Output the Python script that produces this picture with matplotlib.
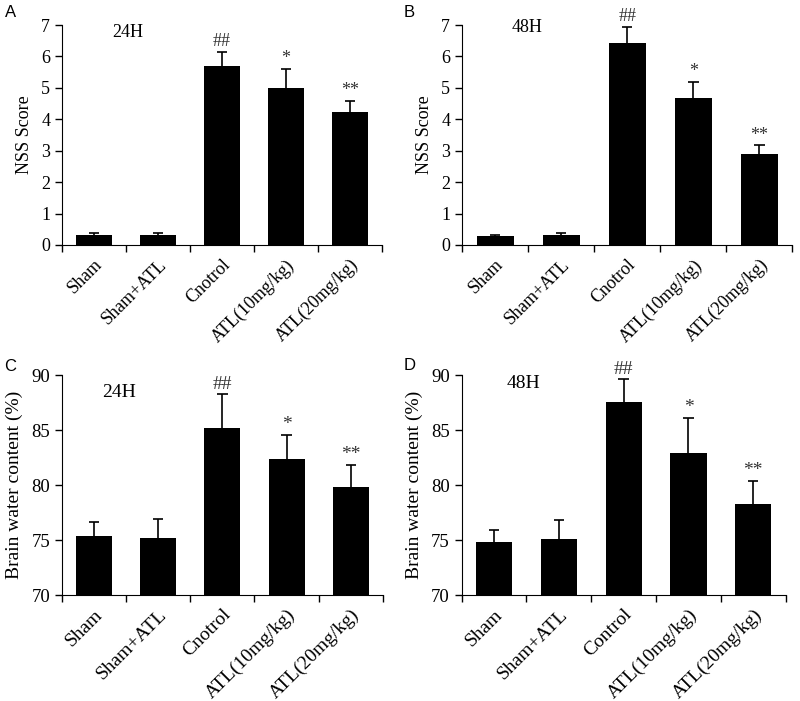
import matplotlib
matplotlib.use("Agg")
import matplotlib.pyplot as plt
import numpy as np

plt.rcParams['font.family'] = ['Liberation Serif', 'DejaVu Serif']

cats_a = ["Sham", "Sham+ATL", "Cnotrol", "ATL(10mg/kg)", "ATL(20mg/kg)"]
cats_d = ["Sham", "Sham+ATL", "Control", "ATL(10mg/kg)", "ATL(20mg/kg)"]

nss_24_mean = [0.33, 0.33, 5.70, 5.00, 4.22]
nss_24_err = [0.04, 0.04, 0.45, 0.60, 0.37]
nss_48_mean = [0.28, 0.32, 6.42, 4.68, 2.90]
nss_48_err = [0.05, 0.07, 0.53, 0.50, 0.27]
bwc_24_mean = [75.36, 75.20, 85.20, 82.40, 79.85]
bwc_24_err = [1.30, 1.68, 3.05, 2.15, 2.00]
bwc_48_mean = [74.85, 75.06, 87.55, 82.95, 78.28]
bwc_48_err = [1.05, 1.75, 2.05, 3.15, 2.12]
marks = ["", "", "##", "*", "**"]

fig = plt.figure(figsize=(8, 7.01), dpi=100)

panels = [
    ("A", [0.0775, 0.6505, 0.400, 0.3138], cats_a, nss_24_mean, nss_24_err, (0, 7), 1, "NSS Score", "24H",
     (0.156, 0.964), (0.006, 0.971), (13, 13, 13)),
    ("B", [0.5775, 0.6505, 0.413, 0.3138], cats_a, nss_48_mean, nss_48_err, (0, 7), 1, "NSS Score", "48H",
     (0.151, 0.99), (0.505, 0.972), (13, 13, 13)),
    ("C", [0.0775, 0.1512, 0.401, 0.3138], cats_a, bwc_24_mean, bwc_24_err, (70, 90), 5, "Brain water content (%)", "24H",
     (0.125, 0.92), (0.005, 0.466), (13.5, 14, 14)),
    ("D", [0.5771, 0.1512, 0.405, 0.3138], cats_d, bwc_48_mean, bwc_48_err, (70, 90), 5, "Brain water content (%)", "48H",
     (0.139, 0.96), (0.505, 0.468), (13.5, 14, 14)),
]

for letter, rect, cats, mean, err, ylim, step, ylab, tlab, tpos, lpos, fs in panels:
    ax = fig.add_axes(rect)
    x = np.arange(len(cats))
    mean = np.array(mean)
    err = np.array(err)
    base = ylim[0]
    ax.bar(x, mean - base, bottom=base, width=0.56, color="black", zorder=3)
    ax.vlines(x, mean, mean + err, color="black", linewidth=1.2, zorder=2)
    ax.hlines(mean + err, x - 0.08, x + 0.08, color="black", linewidth=1.2, zorder=2)
    span = ylim[1] - ylim[0]
    for xi, m, e, s in zip(x, mean, err, marks):
        if s:
            ax.text(xi, m + e + span * 0.008, s, ha="center", va="bottom", fontsize=fs[1], color="#333333")
    ax.set_xlim(-0.5, len(cats) - 0.5)
    ax.set_ylim(*ylim)
    ax.set_yticks(np.arange(ylim[0], ylim[1] + step / 2, step))
    ax.set_xticks(x)
    ax.set_xticklabels(cats, rotation=45, ha="right", rotation_mode="anchor", fontsize=fs[1])
    ax.tick_params(axis="x", which="major", length=0, pad=8)
    ax.set_xticks(np.arange(-0.5, len(cats), 1.0), minor=True)
    ax.tick_params(axis="x", which="minor", length=5, direction="out", width=1)
    ax.tick_params(axis="y", length=5, direction="out", width=1, labelsize=fs[0])
    ax.spines["top"].set_visible(False)
    ax.spines["right"].set_visible(False)
    ax.set_ylabel(ylab, fontsize=fs[2], labelpad=6)
    ax.text(tpos[0], tpos[1], tlab, transform=ax.transAxes, fontsize=fs[1], ha="left", va="center")
    fig.text(lpos[0], lpos[1], letter, fontsize=12, family="Liberation Sans", ha="left", va="bottom")

fig.savefig("out.png", dpi=100)
